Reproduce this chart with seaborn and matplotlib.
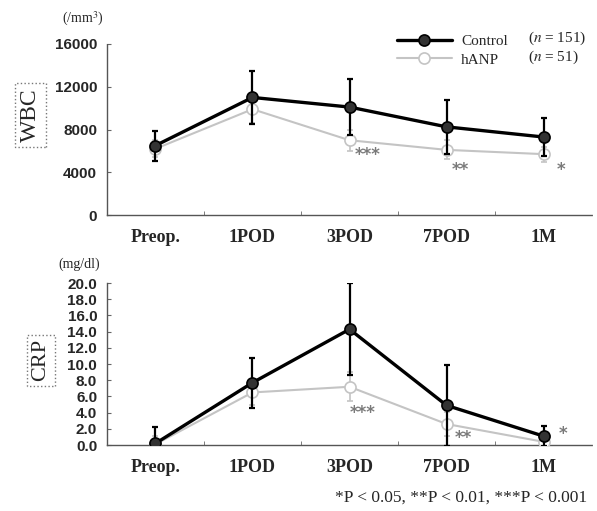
import numpy as np
import pandas as pd
import seaborn as sns
import matplotlib.pyplot as plt

days = ["Preop.", "1POD", "3POD", "7POD", "1M"]

# WBC (/mm3)
wbc_ctrl = [6500, 11000, 10100, 8250, 7300]
wbc_ctrl_sd = [1400, 2500, 2650, 2500, 1750]
wbc_hanp = [6200, 9900, 7000, 6100, 5700]
wbc_hanp_sd = [800, 1300, 1000, 900, 700]
wbc_stars = ["", "", "***", "**", "*"]

# CRP (mg/dl)
crp_ctrl = [0.2, 7.7, 14.3, 4.9, 1.1]
crp_ctrl_sd = [2.0, 3.1, 5.7, 5.0, 1.2]
crp_hanp = [0.1, 6.5, 7.2, 2.6, 0.4]
crp_hanp_sd = [1.0, 1.5, 1.8, 1.5, 0.5]
crp_stars = ["", "", "***", "**", "*"]

sns.set_style("ticks")
plt.rcParams['font.family'] = ['Liberation Serif', 'DejaVu Serif']
plt.rcParams['mathtext.fontset'] = 'stix'

fig = plt.figure(figsize=(5.97, 5.11), dpi=100)
ax1 = fig.add_axes([0.179, 0.579, 0.813, 0.335])
ax2 = fig.add_axes([0.179, 0.129, 0.813, 0.317])

gray = "#c4c4c4"
star_col = "#7a7a7a"


def panel(ax, ctrl, ctrl_sd, hanp, hanp_sd, stars, ymax, step, fmt, star_pos):
    df = pd.DataFrame({"day": days * 2,
                       "value": ctrl + hanp,
                       "group": ["Control"] * 5 + ["hANP"] * 5})
    x = np.arange(len(days))
    ax.errorbar(x, hanp, yerr=hanp_sd, fmt="none", ecolor=gray, elinewidth=1.2,
                capsize=2, capthick=1.2, zorder=2)
    sns.lineplot(data=df[df.group == "hANP"], x="day", y="value", ax=ax,
                 color=gray, lw=1.5, marker="o", markersize=8, markerfacecolor="white",
                 markeredgecolor=gray, markeredgewidth=1.2, label="hANP", zorder=3)
    ax.errorbar(x, ctrl, yerr=ctrl_sd, fmt="none", ecolor="black", elinewidth=1.6,
                capsize=2, capthick=1.6, zorder=4)
    sns.lineplot(data=df[df.group == "Control"], x="day", y="value", ax=ax,
                 color="black", lw=2.4, marker="o", markersize=8, markerfacecolor="#333333",
                 markeredgecolor="black", markeredgewidth=1.2, label="Control", zorder=5)
    for i, s in enumerate(stars):
        if s:
            ax.text(x[i] + star_pos[i][0], star_pos[i][1], s, color=star_col, fontsize=12,
                    ha="left", va="center", family=["DejaVu Sans"], fontweight="bold")
    ax.set_xlim(-0.5, 4.5)
    ax.set_ylim(0, ymax)
    ticks = np.arange(0, ymax + step / 2, step)
    ax.set_yticks(ticks)
    ax.set_yticklabels([fmt.format(t) for t in ticks], family=["Liberation Sans"],
                       fontweight="bold", fontsize=11)
    ax.set_xticks(x)
    ax.set_xticklabels(days, fontweight="bold", fontsize=13)
    ax.set_xticks(x[:-1] + 0.5, minor=True)
    ax.tick_params(axis="x", which="major", length=0, pad=10)
    ax.tick_params(axis="x", which="minor", direction="in", length=3, color="#666")
    ax.tick_params(axis="y", direction="in", length=3, color="#666", pad=7)
    for sp in ["top", "right"]:
        ax.spines[sp].set_visible(False)
    for sp in ["left", "bottom"]:
        ax.spines[sp].set_linestyle((0, (1, 1)))
        ax.spines[sp].set_color("#555")
        ax.spines[sp].set_linewidth(1.0)
    ax.set_xlabel("")
    ax.set_ylabel("")
    ax.patch.set_alpha(0)


panel(ax1, wbc_ctrl, wbc_ctrl_sd, wbc_hanp, wbc_hanp_sd, wbc_stars, 16000, 4000, "{:.0f}",
      [None, None, (0.05, 5600), (0.05, 4200), (0.13, 4200)])
panel(ax2, crp_ctrl, crp_ctrl_sd, crp_hanp, crp_hanp_sd, crp_stars, 20.0, 2.0, "{:.1f}",
      [None, None, (0.0, 3.9), (0.08, 0.9), (0.15, 1.4)])
ax2.get_legend().remove()

# legend
handles, labels = ax1.get_legend_handles_labels()
order = [labels.index("Control"), labels.index("hANP")]
ax1.legend([handles[i] for i in order], [labels[i] for i in order],
           loc="upper left", bbox_to_anchor=(0.585, 1.09), frameon=False,
           fontsize=11, handlelength=3.6, handletextpad=0.6, labelspacing=0.3,
           borderaxespad=0)
fig.text(0.884, 0.925, r"($n$ = 151)", fontsize=11, ha="left", va="center")
fig.text(0.884, 0.887, r"($n$ = 51)", fontsize=11, ha="left", va="center")

# units
fig.text(0.138, 0.962, "(/mm$^3$)", fontsize=10, ha="center", va="center")
fig.text(0.132, 0.482, "(mg/dl)", fontsize=10, ha="center", va="center")

# boxed y labels
fig.text(0.051, 0.775, "WBC", fontsize=17, rotation=90, ha="center", va="center",
         bbox=dict(boxstyle="square,pad=0.2", fc="white", ec="#777", ls=":", lw=1.0))
fig.text(0.068, 0.295, "CRP", fontsize=16, rotation=90, ha="center", va="center",
         bbox=dict(boxstyle="square,pad=0.2", fc="white", ec="#777", ls=":", lw=1.0))

fig.text(0.983, 0.027, "*P < 0.05, **P < 0.01, ***P < 0.001", fontsize=12.5,
         ha="right", va="center")

fig.savefig("out.png", dpi=100, facecolor="white")
